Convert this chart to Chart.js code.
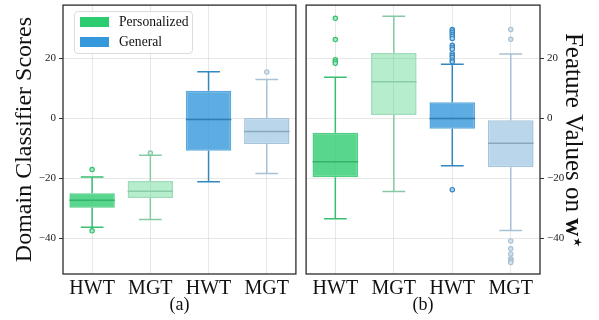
<!DOCTYPE html>
<html>
<head>
<meta charset="utf-8">
<script src="https://cdn.jsdelivr.net/npm/chart.js@4"></script>
<style>
  body { margin: 0; background: #fff; }
  #wrap { position: relative; width: 599px; height: 320px; font-family: 'Liberation Serif', 'Times New Roman', serif; }
  .panel { position: absolute; top: 0; }
  #legend {
    position: absolute; left: 74px; top: 11px; width: 117px; height: 41px;
    border: 1px solid #dcdcdc; border-radius: 4px; background: rgba(255,255,255,0.85);
  }
  #legend .row { position: absolute; left: 5px; height: 20px; display: flex; align-items: center; }
  #legend .sw { width: 29px; height: 10px; margin-right: 10px; }
  #legend .txt { font-size: 13.6px; color: #111; }
</style>
</head>
<body>
<div id="wrap">
  <canvas class="panel" id="chartA" width="301" height="320" style="left:0"></canvas>
  <canvas class="panel" id="chartB" width="298" height="320" style="left:301px"></canvas>
  <div id="legend"></div>
</div>
<script>
const categories = ['HWT', 'MGT', 'HWT', 'MGT']
const groups = ['Personalized', 'Personalized', 'General', 'General']
const seriesNames = ['Personalized', 'General']
const yTicks = [-40, -20, 0, 20]

// (a) domain classifier scores
const aQ1 = [-29.7, -26.5, -10.7, -8.5]
const aMedian = [-27.2, -24.2, -0.3, -4.3]
const aQ3 = [-24.9, -20.8, 9.3, 0.2]
const aLow = [-36.2, -33.6, -21.1, -18.3]
const aHigh = [-19.5, -12.2, 15.6, 13.0]
const aOutliers = [[-17.0, -37.4], [-11.5], [], [15.5]]

// (b) feature values on w*
const bQ1 = [-19.6, 1.2, -3.4, -16.2]
const bMedian = [-14.4, 12.3, 0.0, -8.2]
const bQ3 = [-4.7, 21.8, 5.4, -0.6]
const bLow = [-33.4, -24.3, -15.7, -37.3]
const bHigh = [13.8, 34.1, 18.1, 21.5]
const bOutliers = [
  [33.4, 26.3, 19.6, 19.0, 18.4],
  [],
  [29.7, 29.2, 28.6, 28.0, 27.4, 26.7, 24.4, 23.7, 23.1, 21.6, 21.0, 20.4, 19.5, 18.9, -23.7],
  [29.7, 26.4, -40.8, -43.4, -45.1, -46.7, -47.1, -47.5, -48.0]
]

// styles
const legendColors = ['#2ecc71', '#3498db']
const fills = ['rgba(46,204,113,0.8)', 'rgba(46,204,113,0.35)', 'rgba(52,152,219,0.8)', '#bad6ea']
const edges = ['#4fcf86', '#9fdcba', '#5aa8dc', '#a6c4dc']
const medians = ['#34b56a', '#8ccbaa', '#2e7db5', '#8aa7bd']
const whiskers = ['#36bf70', '#85c9a3', '#3387c0', '#a9c1d4']
const flierFills = ['#a8e8c2', '#cdeedb', '#a9d0ee', '#d2e2ee']
const serif = "'Liberation Serif', 'Times New Roman', serif"

// unique internal labels so duplicate names don't collide
const keys = categories.map((c, i) => c + ' / ' + groups[i])

const legendEl = document.getElementById('legend')
seriesNames.forEach((name, i) => {
  const row = document.createElement('div')
  row.className = 'row'
  row.style.top = (i * 19.7 + 0) + 'px'
  row.innerHTML = `<span class="sw" style="background:${legendColors[i]}"></span><span class="txt">${name}</span>`
  legendEl.appendChild(row)
})

const boxWhiskers = (q1, med, q3, lo, hi) => ({
  id: 'boxWhiskers',
  afterDatasetsDraw (chart) {
    const ctx = chart.ctx
    const y = chart.scales.y
    chart.getDatasetMeta(0).data.forEach((bar, i) => {
      const x = bar.x
      const w = bar.width
      ctx.save()
      ctx.lineWidth = 1.5
      ctx.strokeStyle = whiskers[i]
      ctx.beginPath()
      ctx.moveTo(x, y.getPixelForValue(q3[i]))
      ctx.lineTo(x, y.getPixelForValue(hi[i]))
      ctx.moveTo(x, y.getPixelForValue(q1[i]))
      ctx.lineTo(x, y.getPixelForValue(lo[i]))
      ctx.moveTo(x - w / 4, y.getPixelForValue(hi[i]))
      ctx.lineTo(x + w / 4, y.getPixelForValue(hi[i]))
      ctx.moveTo(x - w / 4, y.getPixelForValue(lo[i]))
      ctx.lineTo(x + w / 4, y.getPixelForValue(lo[i]))
      ctx.stroke()
      ctx.strokeStyle = medians[i]
      ctx.beginPath()
      ctx.moveTo(x - w / 2, y.getPixelForValue(med[i]))
      ctx.lineTo(x + w / 2, y.getPixelForValue(med[i]))
      ctx.stroke()
      ctx.restore()
    })
  }
})

const frame = {
  id: 'frame',
  afterDraw (chart) {
    const { ctx, chartArea: a } = chart
    ctx.save()
    ctx.strokeStyle = '#2b2b2b'
    ctx.lineWidth = 1.3
    ctx.strokeRect(a.left, a.top, a.right - a.left, a.bottom - a.top)
    ctx.restore()
  }
}

// right-hand title with bold w and star subscript
const rightTitle = {
  id: 'rightTitle',
  afterDraw (chart) {
    const { ctx, chartArea: a } = chart
    const parts = [
      { t: 'Feature Values on ', f: `25px ${serif}`, dy: 0 },
      { t: 'w', f: `bold 25px ${serif}`, dy: 0 },
      { t: '\u2605', f: '11px DejaVu Sans', dy: -8 }
    ]
    ctx.save()
    let total = 0
    parts.forEach(p => { ctx.font = p.f; p.w = ctx.measureText(p.t).width; total += p.w })
    ctx.translate(a.right + 26, (a.top + a.bottom) / 2)
    ctx.rotate(Math.PI / 2)
    ctx.fillStyle = '#111'
    ctx.textBaseline = 'alphabetic'
    let x = -total / 2
    parts.forEach(p => { ctx.font = p.f; ctx.fillText(p.t, x, p.dy); x += p.w + (p.t === 'w' ? 1 : 0) })
    ctx.restore()
  }
}

const makeChart = (id, q1, med, q3, lo, hi, outs, side) => {
  const pts = []
  const ptFill = []
  const ptEdge = []
  outs.forEach((vals, i) => vals.forEach(v => {
    pts.push({ x: keys[i], y: v })
    ptFill.push(flierFills[i])
    ptEdge.push(whiskers[i])
  }))
  const left = side === 'left'
  return new Chart(document.getElementById(id), {
    type: 'bar',
    data: {
      labels: keys,
      datasets: [{
        data: q1.map((v, i) => [v, q3[i]]),
        backgroundColor: fills,
        borderColor: edges,
        borderWidth: 1.5,
        borderSkipped: false,
        barPercentage: 0.78,
        categoryPercentage: 1
      }, {
        type: 'line',
        data: pts,
        showLine: false,
        pointRadius: 2.2,
        pointBorderWidth: 1.1,
        pointBackgroundColor: ptFill,
        pointBorderColor: ptEdge
      }]
    },
    options: {
      responsive: false,
      animation: false,
      layout: { padding: left ? { top: 1, right: 3, left: 0, bottom: 0 } : { top: 1, right: 0, left: 5, bottom: 0 } },
      plugins: { legend: { display: false }, tooltip: { enabled: false } },
      scales: {
        x: {
          grid: { offset: false, color: 'rgba(0,0,0,0.09)', drawTicks: false },
          border: { display: false },
          ticks: {
            padding: 3,
            color: '#111',
            font: { family: serif, size: 20 },
            callback: (v, i) => categories[i]
          },
          title: {
            display: true,
            text: left ? '(a)' : '(b)',
            color: '#111',
            font: { family: serif, size: 18 },
            padding: { top: 0, bottom: 4 }
          },
          afterFit: (s) => { s.height = 46; s.paddingLeft = 0; s.paddingRight = 0 }
        },
        y: {
          position: side,
          min: -51.8,
          max: 37.8,
          afterBuildTicks: (s) => { s.ticks = yTicks.map(v => ({ value: v })) },
          grid: { color: 'rgba(0,0,0,0.09)', tickColor: '#333', tickLength: 4 },
          border: { display: false },
          ticks: {
            padding: 3,
            color: '#222',
            font: { family: serif, size: 11 },
            callback: (v) => String(v).replace('-', '\u2212')
          },
          title: {
            display: left,
            text: 'Domain Classifier Scores',
            color: '#111',
            font: { family: serif, size: 24 },
            padding: { top: 10, bottom: 0 }
          },
          afterFit: (s) => { s.width = left ? 63 : 59; s.paddingTop = 0; s.paddingBottom = 0 }
        }
      }
    },
    plugins: left ? [boxWhiskers(q1, med, q3, lo, hi), frame] : [boxWhiskers(q1, med, q3, lo, hi), frame, rightTitle]
  })
}

makeChart('chartA', aQ1, aMedian, aQ3, aLow, aHigh, aOutliers, 'left')
makeChart('chartB', bQ1, bMedian, bQ3, bLow, bHigh, bOutliers, 'right')
</script>
</body>
</html>
